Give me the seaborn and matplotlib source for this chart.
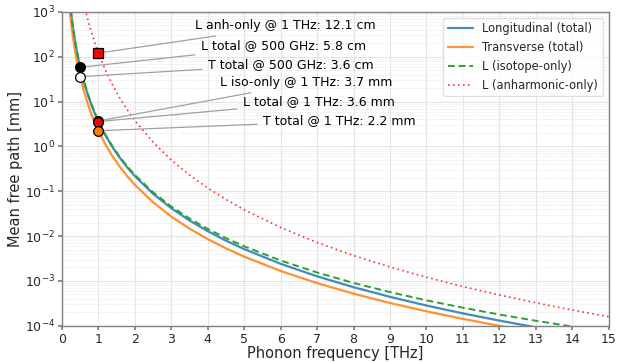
import numpy as np
import pandas as pd
import matplotlib
matplotlib.use("Agg")
import matplotlib.pyplot as plt
import matplotlib.ticker as mticker
import seaborn as sns

# Phonon frequency [THz]
freq = [0.2, 0.25, 0.3, 0.35, 0.4, 0.45, 0.5, 0.6, 0.7, 0.8, 0.9, 1.0,
        1.2, 1.4, 1.6, 1.8, 2.0, 2.5, 3.0, 3.5, 4.0, 4.5, 5.0, 6.0, 7.0,
        8.0, 9.0, 10.0, 11.0, 12.0, 13.0, 14.0, 15.0]
# Mean free path [mm]
L_total = [2298, 939.8, 452.8, 244.1, 142.8, 88.98, 58.31, 28.04, 15.09,
           8.814, 5.489, 3.590, 1.721, 0.9235, 0.5383, 0.3341, 0.2180,
           0.08799, 0.04184, 0.02228, 0.01288, 0.007932, 0.005135,
           0.002412, 0.001269, 7.258e-4, 4.422e-4, 2.834e-4, 1.891e-4,
           1.305e-4, 9.27e-5, 6.74e-5, 5.01e-5]
T_total = [1408, 576.7, 278.0, 150.0, 87.90, 54.85, 35.98, 17.34, 9.351,
           5.478, 3.417, 2.240, 1.0789, 0.5814, 0.3404, 0.2122, 0.1390,
           0.05672, 0.02726, 0.01466, 0.008565, 0.005327, 0.003483,
           0.001668, 8.94e-4, 5.203e-4, 3.226e-4, 2.102e-4, 1.426e-4,
           1.000e-4, 7.21e-5, 5.33e-5, 4.01e-5]
L_iso = [2312, 947, 457, 246.7, 144.5, 90.2, 59.2, 28.55, 15.41, 9.03,
         5.64, 3.70, 1.784, 0.963, 0.5646, 0.3525, 0.2313, 0.09472,
         0.04568, 0.02466, 0.01445, 0.009023, 0.00592, 0.002855, 0.001541,
         9.033e-4, 5.639e-4, 3.70e-4, 2.527e-4, 1.784e-4, 1.295e-4,
         9.63e-5, 7.31e-5]
L_anh = [378125, 123900, 49794, 23048, 11816, 6558, 3872, 1556, 720,
         369.3, 204.9, 121.0, 48.63, 22.50, 11.54, 6.404, 3.781, 1.239,
         0.498, 0.2304, 0.1182, 0.06557, 0.03872, 0.01556, 0.0072,
         0.003693, 0.002049, 0.00121, 7.513e-4, 4.863e-4, 3.259e-4,
         2.25e-4, 1.593e-4]

# Highlighted points
pt_labels = ["L anh-only @ 1 THz: 12.1 cm", "L total @ 500 GHz: 5.8 cm",
             "T total @ 500 GHz: 3.6 cm", "L iso-only @ 1 THz: 3.7 mm",
             "L total @ 1 THz: 3.6 mm", "T total @ 1 THz: 2.2 mm"]
pt_freq = [1.0, 0.5, 0.5, 1.0, 1.0, 1.0]
pt_mfp = [121.0, 58.3, 36.0, 3.70, 3.59, 2.24]

df = pd.DataFrame({"f": freq, "L": L_total, "T": T_total,
                   "Liso": L_iso, "Lanh": L_anh})

sns.set_theme(style="ticks")
plt.rcParams["font.family"] = ["DejaVu Sans"]

fig = plt.figure(figsize=(6.18, 3.62), dpi=100)
ax = fig.add_axes([0.1003, 0.1, 0.8847, 0.867])

sns.lineplot(data=df, x="f", y="L", ax=ax, color="#1f77b4", lw=1.6,
             alpha=0.85, label="Longitudinal (total)")
sns.lineplot(data=df, x="f", y="T", ax=ax, color="#ff7f0e", lw=1.6,
             alpha=0.85, label="Transverse (total)")
sns.lineplot(data=df, x="f", y="Liso", ax=ax, color="#2ca02c", lw=1.4,
             label="L (isotope-only)")
sns.lineplot(data=df, x="f", y="Lanh", ax=ax, color="red", lw=1.2,
             alpha=0.8, label="L (anharmonic-only)")
ax.lines[2].set_linestyle((0, (3.5, 2)))
ax.lines[3].set_linestyle((0, (1, 2)))

ax.set_yscale("log")
ax.set_xlim(0, 15)
ax.set_ylim(1e-4, 1e3)
ax.set_xticks(range(0, 16))
ax.yaxis.set_minor_formatter(mticker.NullFormatter())

# markers
styles = [dict(marker="s", mfc="red"), dict(marker="o", mfc="black"),
          dict(marker="o", mfc="white"), dict(marker="o", mfc="red"),
          dict(marker="o", mfc="red"), dict(marker="o", mfc="#ff7f0e")]
for f, m, st in zip(pt_freq, pt_mfp, styles):
    ax.plot([f], [m], ls="none", ms=7, mec="black", mew=0.9, zorder=5, **st)

text_pos = [(3.65, 490), (3.81, 181), (4.01, 68.7), (4.34, 26.7),
            (4.97, 10.1), (5.52, 3.71)]
for lab, f, m, tp in zip(pt_labels, pt_freq, pt_mfp, text_pos):
    ax.annotate(lab, xy=(f, m), xytext=tp, textcoords="data",
                ha="left", va="center", fontsize=9, color="black",
                arrowprops=dict(arrowstyle="-", color="#a0a0a0", lw=0.9,
                                shrinkA=2, shrinkB=4))

ax.grid(True, which="major", color="#e4e4e4", lw=0.8)
ax.grid(True, which="minor", axis="y", color="#ececec", lw=0.6, ls=(0, (2, 1)))
ax.set_axisbelow(True)
for s in ax.spines.values():
    s.set_color("#808080")
    s.set_linewidth(1.0)
ax.tick_params(axis="both", which="major", labelsize=9, length=3,
               color="#808080", pad=2)
ax.tick_params(axis="y", which="minor", length=0)

ax.set_xlabel("Phonon frequency [THz]", fontsize=10.5, labelpad=0)
ax.set_ylabel("Mean free path [mm]", fontsize=10.5, labelpad=1)

leg = ax.legend(loc="upper right", fontsize=8.3, frameon=True,
                handlelength=2.2, borderaxespad=0.5)
leg.get_frame().set_edgecolor("#d8d8d8")

fig.savefig("out.png", dpi=100)
